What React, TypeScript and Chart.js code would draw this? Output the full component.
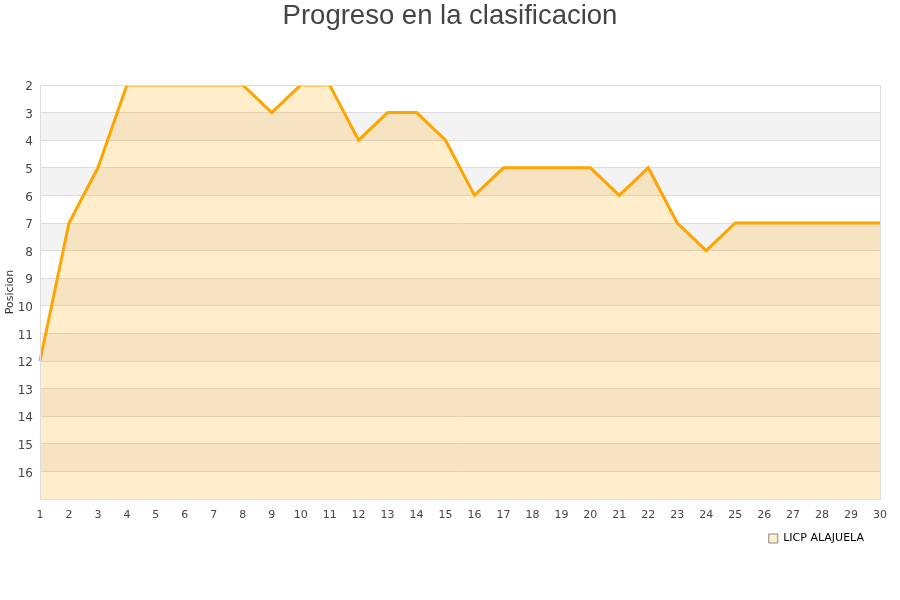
import React, { useEffect, useRef } from "react";
import { Chart, registerables } from "chart.js";

Chart.register(...registerables);

const jornadas: string[] = [
  "1", "2", "3", "4", "5", "6", "7", "8", "9", "10",
  "11", "12", "13", "14", "15", "16", "17", "18", "19", "20",
  "21", "22", "23", "24", "25", "26", "27", "28", "29", "30",
];
const posiciones: number[] = [
  12, 7, 5, 2, 2, 2, 2, 2, 3, 2,
  2, 4, 3, 3, 4, 6, 5, 5, 5, 5,
  6, 5, 7, 8, 7, 7, 7, 7, 7, 7,
];
const bandasGrises: number[][] = [
  [3, 4], [5, 6], [7, 8], [9, 10], [11, 12], [13, 14], [15, 16],
];

const bandsPlugin = {
  id: "bands",
  afterLayout(chart: any) {
    if (chart.legend) {
      chart.legend.right -= 6;
      chart.legend.width -= 6;
    }
    if (chart.titleBlock) {
      chart.titleBlock.right += 20;
      chart.titleBlock.width += 20;
    }
  },
  beforeDraw(chart: any) {
    const { ctx, chartArea } = chart;
    const y = chart.scales.y;
    ctx.save();
    ctx.fillStyle = "#f3f3f3";
    bandasGrises.forEach(([a, b]) => {
      const p1 = y.getPixelForValue(a);
      const p2 = y.getPixelForValue(b);
      ctx.fillRect(chartArea.left, Math.min(p1, p2), chartArea.right - chartArea.left, Math.abs(p2 - p1));
    });
    ctx.restore();
  },
  afterDraw(chart: any) {
    const { ctx, chartArea } = chart;
    ctx.save();
    ctx.strokeStyle = "#dddddd";
    ctx.lineWidth = 1;
    ctx.strokeRect(
      Math.round(chartArea.left) + 0.5,
      Math.round(chartArea.top) + 0.5,
      Math.round(chartArea.right - chartArea.left),
      Math.round(chartArea.bottom - chartArea.top)
    );
    ctx.restore();
  },
};

export default function App() {
  const ref = useRef<HTMLCanvasElement | null>(null);
  useEffect(() => {
    if (!ref.current) return;
    const chart = new Chart(ref.current, {
      type: "line",
      data: {
        labels: jornadas,
        datasets: [
          {
            label: "LICP ALAJUELA",
            data: posiciones,
            borderColor: "#ffa500",
            backgroundColor: "rgba(255,165,0,0.2)",
            borderWidth: 3,
            pointRadius: 0,
            tension: 0,
            fill: { value: 17 },
          },
        ],
      },
      options: {
        animation: false,
        responsive: false,
        maintainAspectRatio: false,
        layout: { padding: { left: 0, right: 20, top: 0, bottom: 46 } },
        plugins: {
          title: {
            display: true,
            text: "Progreso en la clasificacion",
            color: "#444444",
            font: { family: "Liberation Sans", size: 27.5, weight: "normal" },
            padding: { top: 0, bottom: 52 },
          },
          legend: {
            position: "bottom",
            align: "end",
            labels: {
              boxWidth: 9,
              boxHeight: 9,
              color: "#000000",
              font: { family: "DejaVu Sans", size: 11 },
              padding: 10,
              generateLabels: () => [
                {
                  text: "LICP ALAJUELA",
                  fillStyle: "#ffedcc",
                  strokeStyle: "#888888",
                  lineWidth: 1,
                  datasetIndex: 0,
                  fontColor: "#000000",
                },
              ],
            },
          },
          tooltip: { enabled: false },
        },
        scales: {
          x: {
            type: "category",
            offset: false,
            grid: { display: false },
            border: { color: "#dddddd" },
            ticks: {
              color: "#444444",
              font: { family: "DejaVu Sans", size: 11 },
              maxRotation: 0,
              autoSkip: false,
              padding: 2,
            },
            afterFit(scale: any) {
              scale.height = 24;
            },
          },
          y: {
            reverse: true,
            min: 2,
            max: 17,
            grid: { color: "#dddddd", drawTicks: false },
            border: { color: "#dddddd" },
            ticks: {
              stepSize: 1,
              color: "#444444",
              font: { family: "DejaVu Sans", size: 12 },
              padding: 7,
              labelOffset: 2,
              callback: (v: any) => (v === 17 ? "" : String(v)),
            },
            title: {
              display: true,
              text: "Posicion",
              color: "#333333",
              font: { family: "DejaVu Sans", size: 11 },
              padding: { top: 4, bottom: 0 },
            },
            afterFit(scale: any) {
              scale.width = 40;
            },
          },
        },
      },
      plugins: [bandsPlugin],
    });
    return () => chart.destroy();
  }, []);
  return (
    <div style={{ position: "fixed", left: 0, top: 0, width: 900, height: 600, background: "#fff" }}>
      <canvas ref={ref} width={900} height={600} style={{ width: 900, height: 600 }} />
    </div>
  );
}
